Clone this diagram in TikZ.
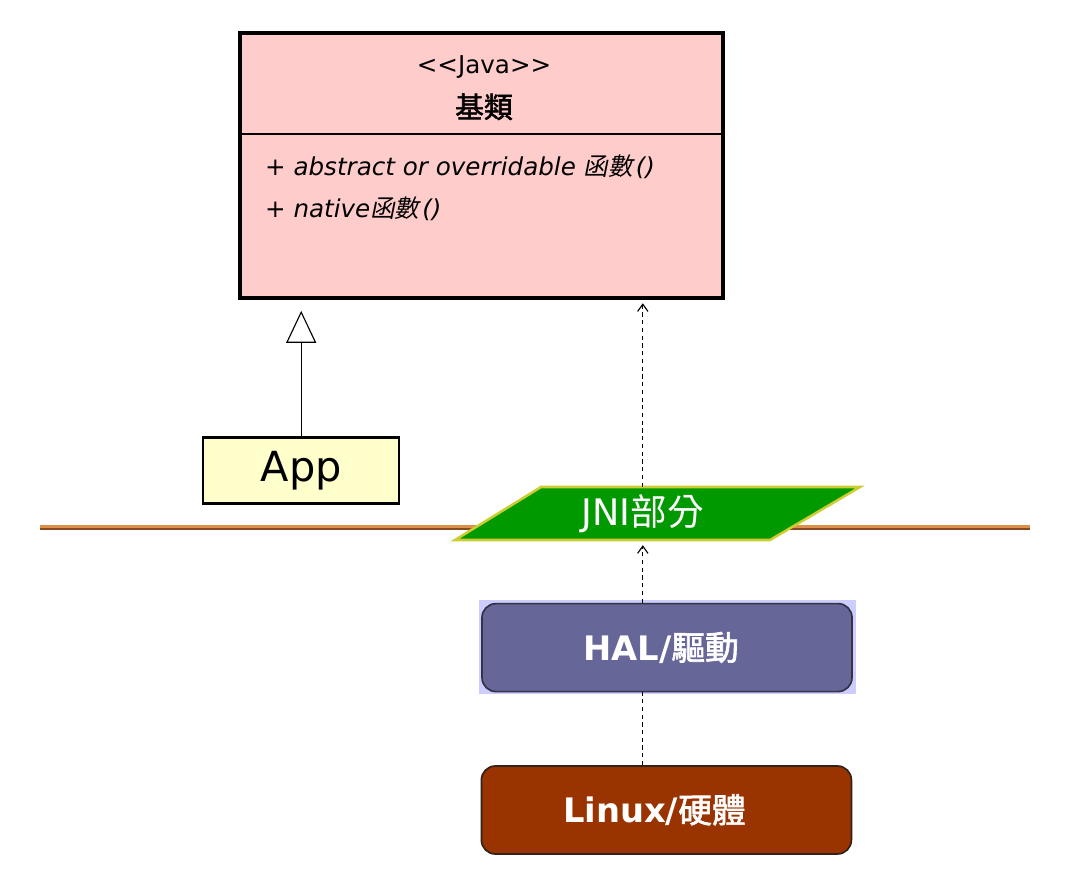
\documentclass[tikz,border=0pt]{standalone}
\usepackage{fontspec}
\usepackage{tikz}
\usetikzlibrary{arrows.meta}
\setmainfont{DejaVu Sans}[Ligatures=TeXOff]
\newfontfamily\cjk{Noto Sans CJK TC}[AutoFakeSlant=0.2, AutoFakeBold=2]
\definecolor{classpink}{RGB}{255,204,204}
\definecolor{appyellow}{RGB}{255,255,204}
\definecolor{jnigreen}{RGB}{0,153,0}
\definecolor{jniedge}{RGB}{204,204,51}
\definecolor{halblue}{RGB}{102,102,153}
\definecolor{halback}{RGB}{204,204,255}
\definecolor{haledge}{RGB}{51,51,68}
\definecolor{linuxred}{RGB}{153,51,0}
\definecolor{linuxedge}{RGB}{51,34,26}
\definecolor{rulelight}{RGB}{222,145,75}
\definecolor{ruledark}{RGB}{135,75,30}

\begin{document}
\begin{tikzpicture}[
		every node/.style={inner sep=0pt},
		classbox/.style={rectangle, draw, line width=2.8pt, fill=classpink, minimum width=12.075cm, minimum height=6.625cm},
		classtext/.style={font=\fontsize{17.5pt}{21pt}\selectfont},
		appbox/.style={rectangle, draw, line width=1.6pt, fill=appyellow, minimum width=4.9cm, minimum height=1.65cm, font=\fontsize{29.5pt}{34pt}\selectfont},
		layerbox/.style={rectangle, rounded corners=0.35cm, line width=1.2pt, text=white, minimum width=9.25cm, minimum height=2.2cm, font=\bfseries\fontsize{24pt}{28pt}\selectfont},
		jnishape/.style={fill=jnigreen, draw=jniedge, line width=1.8pt},
		inherit/.style={line width=0.8pt, -{Triangle[open, length=0.8cm, width=0.75cm]}},
		depend/.style={dashed, dash pattern=on 3pt off 2.5pt, line width=0.8pt}
	]
  \useasboundingbox (0cm, 0cm) rectangle (27cm, 22.1cm);
  % base class
  \node (base) [classbox] at (12.04cm, 17.96cm) {};
  \draw [line width=1.2pt] (base.west |- 0, 18.75cm) -- (base.east |- 0, 18.75cm);
  \node (stereo) [classtext] at (12.1cm, 20.43cm) {<<Java>>};
  \node (basename) at (12.1cm, 19.43cm) {\cjk\bfseries\fontsize{20.5pt}{24pt}\selectfont 基類};
  \node (attr_a) [classtext, anchor=west] at (6.62cm, 17.92cm) {\itshape + abstract or overridable {\cjk 函數}\kern2pt()};
  \node (attr_b) [classtext, anchor=west] at (6.62cm, 16.87cm) {\itshape + native{\cjk 函數}\kern2pt()};
  % app
  \node (app) [appbox] at (7.53cm, 10.34cm) {App};
  \draw [inherit] (app.north) -- ([yshift=-0.27cm]app.north |- base.south);
  % boundary line
  \draw [rulelight, line width=1.8pt] (1cm, 8.94cm) -- (25.75cm, 8.94cm);
  \draw [ruledark, line width=1.3pt] (1cm, 8.87cm) -- (25.75cm, 8.87cm);
  % jni
  \draw [jnishape] (11.375cm, 8.6cm) -- (13.525cm, 9.925cm) -- (21.5cm, 9.925cm) -- (19.25cm, 8.6cm) -- cycle;
  \node (jni) [text=white, minimum height=1.325cm, font=\fontsize{26pt}{30pt}\selectfont] at (16.07cm, 9.26cm) {JNI{\cjk 部分}};
  % layers
  \fill [halback] (11.975cm, 4.75cm) rectangle (21.4cm, 7.1cm);
  \node (hal) [layerbox, fill=halblue, draw=haledge] at (16.675cm, 5.91cm) {\hspace{-0.3cm}HAL/{\cjk 驅動}};
  \node (linux) [layerbox, fill=linuxred, draw=linuxedge] at (16.66cm, 1.85cm) {\hspace{-0.6cm}Linux/{\cjk 硬體}};
  \draw [depend, -{Straight Barb[length=1.8mm, width=2.6mm]}] (jni.north) -- ([yshift=-0.08cm]jni.north |- base.south);
  \draw [depend, -{Straight Barb[length=1.8mm, width=2.6mm]}] (hal.north -| jni.south) -- ([yshift=-0.12cm]jni.south);
  \draw [depend] (linux.north -| jni.south) -- (hal.south -| jni.south);
\end{tikzpicture}
\end{document}
